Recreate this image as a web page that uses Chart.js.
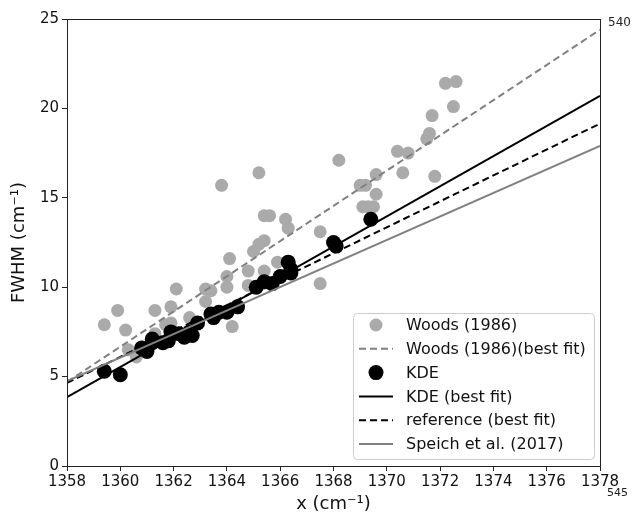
<!DOCTYPE html>
<html>
<head>
<meta charset="utf-8">
<script src="https://cdn.jsdelivr.net/npm/chart.js@4.4.0/dist/chart.umd.min.js"></script>
<style>
  html, body { margin: 0; padding: 0; background: #fff; }
  #wrap { width: 632px; height: 515px; }
</style>
</head>
<body>
<div id="wrap"><canvas id="fwhmChart" width="632" height="515"></canvas></div>
<script>
// Woods (1986) measurements
const woodsX = [1359.4, 1359.9, 1360.2, 1360.3, 1360.6, 1361.3, 1361.3, 1361.9, 1361.9, 1361.7,
                1362.6, 1362.1, 1363.2, 1363.2, 1363.4, 1364.2, 1363.8, 1364.0, 1364.0, 1364.1,
                1364.8, 1364.8, 1365.0, 1365.2, 1365.4, 1365.2, 1365.4, 1365.6, 1365.4, 1365.9,
                1366.2, 1366.3, 1367.5, 1367.5, 1368.2, 1369.0, 1369.2, 1369.1, 1369.3, 1369.5,
                1369.6, 1369.6, 1370.4, 1370.8, 1370.6, 1371.5, 1371.6, 1371.7, 1371.8, 1372.2,
                1372.6, 1372.5];
const woodsY = [7.9, 8.7, 7.6, 6.5, 6.1, 8.7, 7.4, 8.9, 8.0, 7.9,
                8.3, 9.9, 9.2, 9.9, 9.8, 7.8, 15.7, 10.6, 10.0, 11.6,
                10.9, 10.1, 12.0, 12.4, 12.6, 16.4, 14.0, 14.0, 10.9, 11.4,
                13.8, 13.3, 13.1, 10.2, 17.1, 15.7, 15.7, 14.5, 14.5, 14.5,
                15.2, 16.3, 17.6, 17.5, 16.4, 18.3, 18.6, 19.6, 16.2, 21.4,
                21.5, 20.1];

// KDE measurements
const kdeX = [1359.4, 1360.0, 1360.8, 1361.0, 1361.2, 1361.2, 1361.6, 1361.8, 1361.9, 1362.2,
              1362.4, 1362.6, 1362.7, 1362.9, 1363.4, 1363.5, 1363.7, 1364.0, 1364.4, 1365.1,
              1365.4, 1365.7, 1366.0, 1366.3, 1366.4, 1366.4, 1368.0, 1368.1, 1369.4];
const kdeY = [5.3, 5.1, 6.6, 6.4, 7.1, 6.9, 6.9, 7.0, 7.5, 7.4,
              7.2, 7.5, 7.3, 8.0, 8.5, 8.3, 8.6, 8.6, 8.9, 10.0,
              10.3, 10.2, 10.6, 11.4, 10.8, 11.0, 12.5, 12.3, 13.8];

// best fit lines, value at each end of the x range
const fitX = [1358, 1378];
const woodsFitY = [4.7, 24.4];
const kdeFitY = [3.85, 20.7];
const refFitY = [4.65, 19.15];
const speichFitY = [4.75, 17.9];

const xTicks = [1358, 1360, 1362, 1364, 1366, 1368, 1370, 1372, 1374, 1376, 1378];
const yTicks = [0, 5, 10, 15, 20, 25];

function toPoints(xs, ys) {
    return xs.map((x, i) => ({ x: x, y: ys[i] }));
}

const FONT = 'DejaVu Sans';

// matplotlib style box round the plot
const framePlugin = {
    id: 'frame',
    afterDraw(chart) {
        const a = chart.chartArea;
        const c = chart.ctx;
        c.save();
        c.strokeStyle = '#222';
        c.lineWidth = 1;
        c.strokeRect(Math.round(a.left) + 0.5, Math.round(a.top) + 0.5,
                     Math.round(a.right - a.left), Math.round(a.bottom - a.top));
        // stray labels at the right edge
        c.fillStyle = '#222';
        c.textBaseline = 'middle';
        c.textAlign = 'left';
        c.font = '12px ' + FONT;
        c.fillText('540', 608, 23);
        c.font = '11px ' + FONT;
        c.fillText('545', 607, 493);
        c.restore();
    }
};

// legend drawn inside the axes, lower right
const legendPlugin = {
    id: 'innerLegend',
    afterDraw(chart) {
        const c = chart.ctx;
        const box = { x: 353.5, y: 313.5, w: 241, h: 146 };
        c.save();
        c.beginPath();
        c.roundRect(box.x, box.y, box.w, box.h, 4);
        c.fillStyle = 'rgba(255,255,255,0.8)';
        c.fill();
        c.strokeStyle = '#cccccc';
        c.lineWidth = 1;
        c.stroke();

        const rowTop = 325, rowGap = 23.8;
        chart.data.datasets.forEach((ds, i) => {
            const y = rowTop + i * rowGap;
            if (ds.showLine) {
                c.beginPath();
                c.strokeStyle = ds.borderColor;
                c.lineWidth = ds.borderWidth;
                c.setLineDash(ds.borderDash || []);
                c.moveTo(359, y);
                c.lineTo(393, y);
                c.stroke();
                c.setLineDash([]);
            } else {
                c.beginPath();
                c.fillStyle = ds.backgroundColor;
                c.arc(376, y, ds.pointRadius, 0, Math.PI * 2);
                c.fill();
            }
            c.fillStyle = '#111';
            c.font = '16px ' + FONT;
            c.textAlign = 'left';
            c.textBaseline = 'middle';
            c.fillText(ds.label, 406, y + 1);
        });
        c.restore();
    }
};

const ctx = document.getElementById('fwhmChart').getContext('2d');

const myChart = new Chart(ctx, {
    type: 'scatter',
    data: {
        datasets: [
            {
                label: 'Woods (1986)',
                data: toPoints(woodsX, woodsY),
                backgroundColor: '#aaaaaa',
                pointRadius: 6.5,
                pointBorderWidth: 0,
                order: 6
            },
            {
                label: 'Woods (1986)(best fit)',
                data: toPoints(fitX, woodsFitY),
                showLine: true,
                borderColor: '#808080',
                borderWidth: 2,
                borderDash: [7, 4],
                pointRadius: 0,
                order: 5
            },
            {
                label: 'KDE',
                data: toPoints(kdeX, kdeY),
                backgroundColor: '#000000',
                pointRadius: 7.5,
                pointBorderWidth: 0,
                order: 4
            },
            {
                label: 'KDE (best fit)',
                data: toPoints(fitX, kdeFitY),
                showLine: true,
                borderColor: '#000000',
                borderWidth: 2,
                pointRadius: 0,
                order: 3
            },
            {
                label: 'reference (best fit)',
                data: toPoints(fitX, refFitY),
                showLine: true,
                borderColor: '#000000',
                borderWidth: 2,
                borderDash: [7, 4],
                pointRadius: 0,
                order: 2
            },
            {
                label: 'Speich et al. (2017)',
                data: toPoints(fitX, speichFitY),
                showLine: true,
                borderColor: '#808080',
                borderWidth: 2,
                pointRadius: 0,
                order: 1
            }
        ]
    },
    options: {
        responsive: false,
        animation: false,
        layout: { padding: { top: 19, right: 32, left: 0, bottom: 0 } },
        plugins: {
            legend: { display: false },
            tooltip: { enabled: false }
        },
        scales: {
            x: {
                type: 'linear',
                min: 1358,
                max: 1378,
                afterBuildTicks: (scale) => { scale.ticks = xTicks.map(v => ({ value: v })); },
                afterFit: (scale) => { scale.height = 49; },
                ticks: {
                    color: '#111',
                    font: { family: FONT, size: 15 },
                    padding: 2,
                    maxRotation: 0,
                    autoSkip: false,
                    callback: (v) => String(v)
                },
                grid: { drawOnChartArea: false, drawTicks: true, tickLength: 5, color: '#222' },
                border: { display: false },
                title: {
                    display: true,
                    text: 'x (cm⁻¹)',
                    color: '#111',
                    font: { family: FONT, size: 18 },
                    padding: { top: 0, bottom: 0 }
                }
            },
            y: {
                type: 'linear',
                min: 0,
                max: 25,
                afterBuildTicks: (scale) => { scale.ticks = yTicks.map(v => ({ value: v })); },
                afterFit: (scale) => { scale.width = 67; },
                ticks: {
                    color: '#111',
                    font: { family: FONT, size: 15 },
                    padding: 3,
                    callback: (v) => String(v)
                },
                grid: { drawOnChartArea: false, drawTicks: true, tickLength: 5, color: '#222' },
                border: { display: false },
                title: {
                    display: true,
                    text: 'FWHM (cm⁻¹)',
                    color: '#111',
                    font: { family: FONT, size: 18 },
                    padding: { top: 9, bottom: 0 }
                }
            }
        }
    },
    plugins: [framePlugin, legendPlugin]
});
</script>
</body>
</html>
